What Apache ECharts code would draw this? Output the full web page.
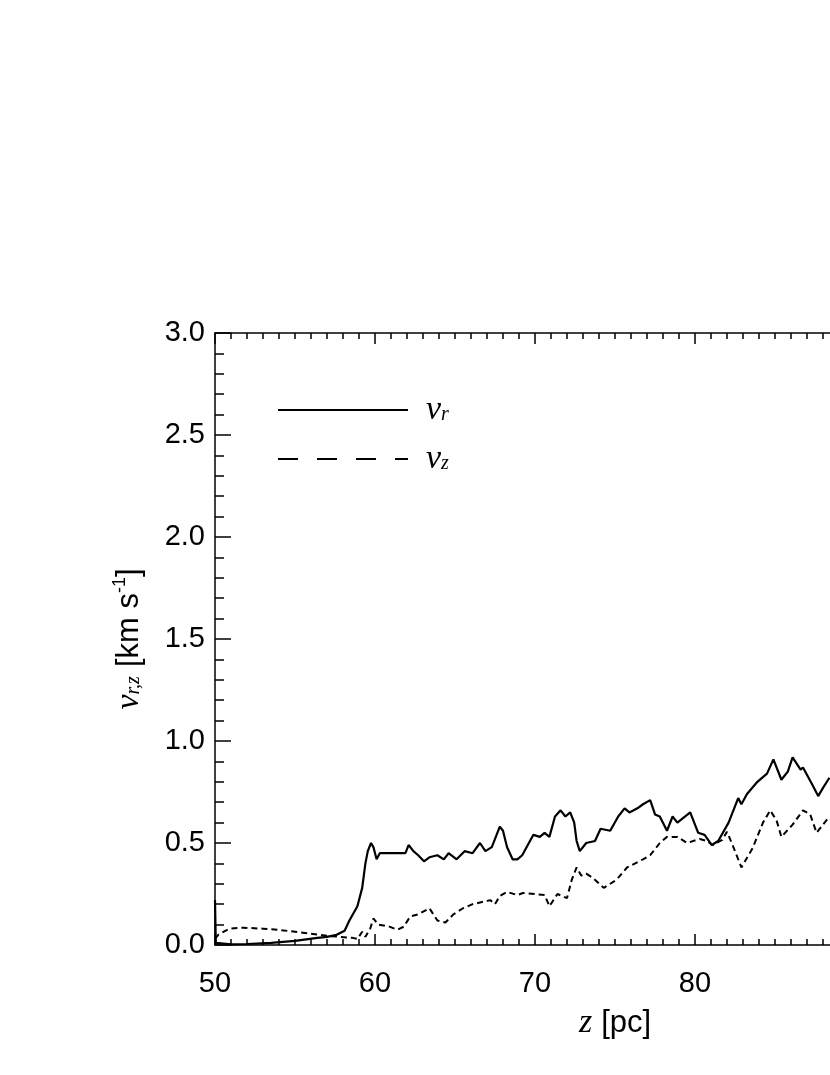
<!DOCTYPE html>
<html>
<head>
<meta charset="utf-8">
<script src="https://cdn.jsdelivr.net/npm/echarts@6/dist/echarts.min.js"></script>
<style>
  html, body { margin: 0; padding: 0; background: #fff; }
  #chart { width: 830px; height: 1075px; }
</style>
</head>
<body>
<div id="chart"></div>
<script>
// v_r (solid)
const zR = [50.0, 50.05, 51.0, 52.0, 53.5, 55.0, 56.4, 57.0, 57.6, 58.1, 58.4, 58.9, 59.2, 59.4, 59.55, 59.75,
  59.9, 60.1, 60.3, 61.0, 61.6, 61.9, 62.1, 62.4, 62.7, 63.06, 63.4, 63.9, 64.3, 64.6, 65.1, 65.6,
  66.1, 66.56, 66.9, 67.3, 67.8, 68.0, 68.25, 68.6, 68.9, 69.2, 69.9, 70.3, 70.6, 70.9, 71.25, 71.6,
  71.9, 72.2, 72.45, 72.6, 72.8, 73.2, 73.75, 74.1, 74.7, 75.2, 75.6, 75.9, 76.4, 76.75, 77.2, 77.5,
  77.8, 78.25, 78.6, 78.9, 79.7, 80.2, 80.6, 81.05, 81.45, 82.1, 82.7, 82.9, 83.25, 83.9, 84.5, 84.9,
  85.4, 85.8, 86.1, 86.6, 86.75, 87.3, 87.7, 88.0, 88.4];
const vR = [0.22, 0.01, 0.003, 0.005, 0.01, 0.02, 0.035, 0.04, 0.05, 0.07, 0.12, 0.19, 0.28, 0.40, 0.46, 0.50,
  0.48, 0.42, 0.45, 0.45, 0.45, 0.45, 0.49, 0.46, 0.44, 0.41, 0.43, 0.44, 0.42, 0.45, 0.42, 0.46,
  0.45, 0.50, 0.46, 0.48, 0.58, 0.56, 0.48, 0.42, 0.42, 0.44, 0.54, 0.53, 0.55, 0.53, 0.63, 0.66,
  0.63, 0.65, 0.60, 0.51, 0.46, 0.50, 0.51, 0.57, 0.56, 0.63, 0.67, 0.65, 0.67, 0.69, 0.71, 0.64,
  0.63, 0.56, 0.63, 0.60, 0.65, 0.55, 0.54, 0.49, 0.51, 0.60, 0.72, 0.69, 0.74, 0.80, 0.84, 0.91,
  0.81, 0.85, 0.92, 0.86, 0.87, 0.79, 0.73, 0.77, 0.82];

// v_z (dashed)
const zZ = [50.0, 50.2, 50.9, 51.75, 53.0, 53.9, 55.5, 57.0, 58.6, 58.9, 59.2, 59.4, 59.7, 59.9, 60.2, 60.9,
  61.4, 61.8, 62.2, 62.7, 63.4, 63.9, 64.4, 64.9, 65.5, 66.1, 67.2, 67.5, 67.8, 68.25, 68.9, 69.25,
  70.0, 70.6, 70.9, 71.4, 72.0, 72.3, 72.6, 72.9, 73.2, 73.6, 74.3, 75.1, 75.75, 76.75, 77.2, 77.8,
  78.25, 78.9, 79.5, 80.3, 80.75, 81.1, 81.7, 82.0, 82.4, 82.9, 83.6, 84.25, 84.7, 85.1, 85.4, 86.1,
  86.75, 87.2, 87.6, 88.0, 88.4];
const vZ = [0.03, 0.05, 0.08, 0.085, 0.08, 0.075, 0.06, 0.045, 0.035, 0.03, 0.065, 0.04, 0.08, 0.13, 0.10, 0.09,
  0.075, 0.09, 0.14, 0.15, 0.18, 0.12, 0.11, 0.15, 0.18, 0.20, 0.22, 0.20, 0.24, 0.26, 0.245, 0.255,
  0.25, 0.245, 0.19, 0.25, 0.23, 0.32, 0.38, 0.34, 0.35, 0.33, 0.28, 0.32, 0.38, 0.42, 0.44, 0.50,
  0.53, 0.53, 0.50, 0.52, 0.51, 0.49, 0.515, 0.555, 0.48, 0.38, 0.475, 0.60, 0.66, 0.61, 0.53, 0.59,
  0.66, 0.64, 0.55, 0.59, 0.63];

const xTicks = [50, 100, 10];   // min, max, interval
const yTicks = [0, 3, 0.5];

const sans = 'Liberation Sans';
const serif = 'Liberation Serif';

const chart = echarts.init(document.getElementById('chart'));

const rich = {
  i: { fontFamily: serif, fontStyle: 'italic', fontSize: 34, color: '#000', lineHeight: 36 },
  s: { fontFamily: serif, fontStyle: 'italic', fontSize: 20, color: '#000', verticalAlign: 'bottom', padding: [0, 0, 3, 0] },
  t: { fontFamily: sans, fontSize: 31, color: '#000', lineHeight: 36 },
  p: { fontFamily: sans, fontSize: 18, color: '#000', verticalAlign: 'top' },
  g: { width: 13 },
  w: { width: 9 }
};

const xBase = {
  type: 'value',
  min: xTicks[0], max: xTicks[1], interval: xTicks[2],
  axisLine: { show: true, onZero: false, lineStyle: { color: '#000', width: 1.5 } },
  axisTick: { show: true, inside: true, length: 11, lineStyle: { color: '#000', width: 1.5 } },
  minorTick: { show: true, splitNumber: 10, length: 6, lineStyle: { color: '#000', width: 1.5 } },
  splitLine: { show: false }
};

chart.setOption({
  backgroundColor: '#fff',
  animation: false,
  grid: { left: 215, top: 333, width: 800, height: 612, outerBoundsMode: 'none', containLabel: false },
  legend: {
    orient: 'vertical',
    left: 277, top: 393, padding: 0,
    itemWidth: 130, itemHeight: 36, itemGap: 15,
    itemStyle: { opacity: 0 },
    data: [
      { name: 'vr' },
      { name: 'vz', lineStyle: { type: [20, 19] } }
    ],
    formatter: n => n === 'vr' ? '{g|}{i|v}{s|r}' : '{g|}{i|v}{s|z}',
    textStyle: { rich: rich }
  },
  xAxis: [
    Object.assign({}, xBase, {
      position: 'bottom',
      name: '{i|z}{w|}{t|[pc]}',
      nameLocation: 'middle', nameGap: 60,
      nameTextStyle: { rich: rich },
      axisLabel: { margin: 24, fontFamily: sans, fontSize: 29, color: '#000' }
    }),
    Object.assign({}, xBase, { position: 'top', axisLabel: { show: false } })
  ],
  yAxis: {
    type: 'value',
    min: yTicks[0], max: yTicks[1], interval: yTicks[2],
    name: '{i|v}{s|r,z}{w|}{t|[km s}{p|-1}{t|]}',
    nameLocation: 'middle', nameGap: 68,
    nameTextStyle: { rich: rich },
    axisLine: { show: true, lineStyle: { color: '#000', width: 1.5 } },
    axisTick: { show: true, inside: true, length: 16, lineStyle: { color: '#000', width: 1.5 } },
    minorTick: { show: true, splitNumber: 5, length: 9, lineStyle: { color: '#000', width: 1.5 } },
    splitLine: { show: false },
    axisLabel: { margin: 10, fontFamily: sans, fontSize: 29, color: '#000', formatter: v => v.toFixed(1) }
  },
  series: [
    {
      name: 'vr', type: 'line', xAxisIndex: 0,
      data: zR.map((z, k) => [z, vR[k]]),
      showSymbol: false, symbol: 'none',
      lineStyle: { color: '#000', width: 2.2 },
      itemStyle: { color: '#000' }
    },
    {
      name: 'vz', type: 'line', xAxisIndex: 0,
      data: zZ.map((z, k) => [z, vZ[k]]),
      showSymbol: false, symbol: 'none',
      lineStyle: { color: '#000', width: 2, type: [6, 4] },
      itemStyle: { color: '#000' }
    }
  ]
});
</script>
</body>
</html>
